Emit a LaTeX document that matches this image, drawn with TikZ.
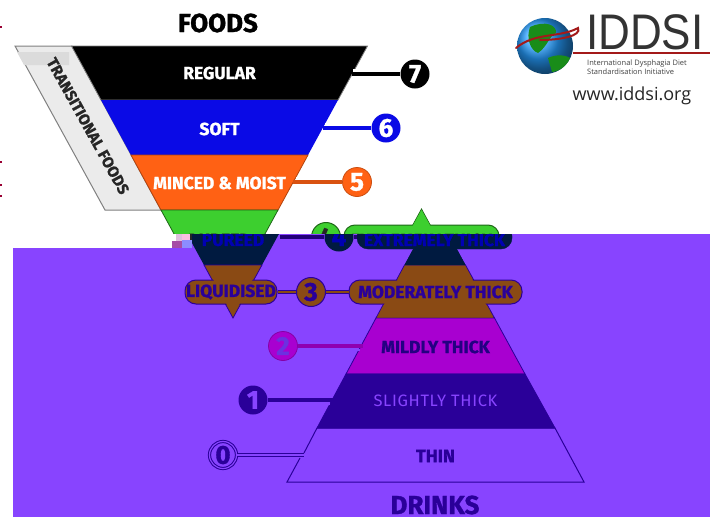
\documentclass[tikz,border=0pt]{standalone}
\usepackage{fontspec}
\setmainfont{Fira Sans}[BoldFeatures={FakeBold=1.2}]
\newfontfamily\logofont{Open Sans}
\newfontfamily\iddsifont{Liberation Sans}[FakeStretch=.88]
\usetikzlibrary{shadings}
\definecolor{bgviolet}{HTML}{8844FF}
\definecolor{navyband}{HTML}{001A40}
\definecolor{brownband}{HTML}{8A4A14}
\definecolor{magband}{HTML}{A800D0}
\definecolor{indigoband}{HTML}{2A0099}
\definecolor{greenband}{HTML}{3DCF2F}
\definecolor{orangeband}{HTML}{FF6114}
\definecolor{blueband}{HTML}{0A0AE6}
\tikzset{
  lvl/.style={circle, minimum size=29pt, inner sep=0pt, font=\bfseries\fontsize{26}{26}\selectfont},
  pill/.style={rounded corners=11pt, minimum height=24pt, inner sep=0pt},
  lab/.style={font=\bfseries\fontsize{17.5}{17.5}\selectfont},
  link/.style={line width=3.6pt},
  band/.style={line width=.8pt}
}
\begin{document}
\begin{tikzpicture}[x=1pt,y=-1pt]
    \useasboundingbox (0,0) rectangle (710,517);
    \fill[white] (0,0) rectangle (710,517);

    % stray marks on the left edge
    \foreach \ypos in {27,162,185,196}
      \fill[purple!80!black] (0,\ypos-1) rectangle (1.5,\ypos+1);

    % foods
    \node[font=\bfseries\fontsize{26}{26}\selectfont] (foods) at (218,23) {FOODS};

    \path [draw=gray, fill=gray!16, line width=1pt] (15,46) -- (72,46) -- (161,210) -- (105,210) -- cycle;
    \fill[gray!28] (17,52) -- (69,52) -- (69,65) -- (24,65) -- cycle;
    \node[rotate=-61, font=\bfseries\fontsize{15.5}{15.5}\selectfont, text=black!85] (trans) at (88,126) {TRANSITIONAL FOODS};

    \path [draw=gray, fill=black, band] (71.5,46) -- (367.5,46) -- (338,100) -- (101,100) -- cycle;
    \path [fill=blueband] (101,100) -- (338,100) -- (308,155) -- (131,155) -- cycle;
    \path [draw=orangeband!70!black, fill=orangeband, band] (131,155) -- (308,155) -- (278,210) -- (161,210) -- cycle;
    \path [draw=greenband!50!black, fill=greenband, band] (161,210) -- (278,210) -- (248,265) -- (191,265) -- cycle;

    \node[lab, text=white] (regular) at (219.5,73) {REGULAR};
    \node[lab, text=white] (soft) at (219.5,129) {SOFT};
    \node[lab, text=white] (minced) at (219.5,183) {MINCED \& MOIST};
    \node[lab, text=black!85] (pureed) at (219.5,240) {PUREED};

    \node[lvl, fill=black, text=white] (n7) at (415,74) {7};
    \node[lvl, fill=blueband, text=white] (n6) at (386,128) {6};
    \node[lvl, draw=orangeband!80!black, fill=orangeband, text=white, line width=.8pt] (n5) at (357,182) {5};
    \coordinate (c7) at (352,74);
    \coordinate (c6) at (323,128);
    \coordinate (c5) at (293,182);
    \draw[link, black] (c7) -- (n7);
    \draw[link, blueband] (c6) -- (n6);
    \draw[link, orangeband!85!black] (c5) -- (n5);
    \fill[white] (353,69) rectangle (361,71.5);
    \fill[white] (325,123) rectangle (333,125.5);
    \fill[white] (296,177) rectangle (304,179.5);

    % drinks, upper tip
    \path [draw=greenband!50!black, fill=greenband, band] (421.5,209) -- (452,265) -- (391,265) -- cycle;
    \node[pill, draw=greenband!50!black, fill=greenband, line width=1pt, minimum width=155pt] (xthick) at (421.5,237) {};
    \path [fill=greenband] (421.5,210) -- (437,238) -- (406,238) -- cycle;
    \node[lab, text=black!85] at (421.5,240) {EXTREMELY THICK};
    \node[lvl, draw=greenband!50!black, fill=greenband, line width=1pt] (n4top) at (326,237) {\textcolor{black!85}{4}};

    % violet part of the picture, shifted sideways
    \fill[bgviolet] (13,248) -- (192,248) -- (192,234) -- (710,234) -- (710,517) -- (13,517) -- cycle;
    \fill[white] (160,234) rectangle (176,248);
    \fill[violet!25] (176,234) rectangle (182,241);
    \fill[magenta!25] (182,234) rectangle (190,240);
    \fill[blue!45] (182,240) rectangle (192,248);
    \fill[violet!70] (172,241) rectangle (182,248);
    \begin{scope}
    \clip (13,248) -- (192,248) -- (192,234) -- (710,234) -- (710,517) -- (13,517) -- cycle;

    \path [fill=navyband] (174,210) -- (292,210) -- (262,265) -- (204,265) -- cycle;
    \path [draw=indigoband, fill=brownband, band] (204,265) -- (262,265) -- (233,318) -- cycle;

    \path [fill=navyband] (435,209) -- (465.5,265) -- (404.5,265) -- cycle;
    \path [draw=indigoband, fill=brownband, band] (404.5,265) -- (465.5,265) -- (494.5,318) -- (376,318) -- cycle;
    \path [draw=indigoband, fill=magband, band] (376,318) -- (494.5,318) -- (525,374) -- (346,374) -- cycle;
    \path [draw=indigoband, fill=indigoband, band] (346,374) -- (525,374) -- (555,428) -- (317,428) -- cycle;
    \path [draw=indigoband, line width=1pt] (317,428) -- (555,428) -- (584,482) -- (287,482) -- (300,458);
    \path [draw=indigoband, line width=1pt] (317,428) -- (304,453);

    \node[pill, fill=navyband, draw=navyband, minimum width=155pt] (xthicklo) at (434.5,237) {};
    \path [fill=navyband] (435,209) -- (465.5,265) -- (404.5,265) -- cycle;
    \node[lab, text=blue!70!black] (xthicktext) at (434.5,240) {EXTREMELY THICK};
    \node[lab, text=blue!70!black] (pureedlo) at (233,240) {PUREED};
    \node[lvl, fill=navyband, text=blue!70!black] (n4) at (339,237) {4};
    \coordinate (c4) at (280,237);
    \draw[link, indigoband!80!black] (c4) -- (n4);
    \draw[link, indigoband!80!black] (n4) -- (xthicklo);

    \node[pill, draw=indigoband, fill=brownband, line width=1pt, minimum width=92pt] (liq) at (231,292) {};
    \node[pill, draw=indigoband, fill=brownband, line width=1pt, minimum width=173pt] (mod) at (435.5,292) {};
    \path [fill=brownband] (206,266) -- (260,266) -- (233,316) -- cycle;
    \path [fill=brownband] (405,266) -- (465,266) -- (493,317.5) -- (377,317.5) -- cycle;
    \node[lab, text=indigoband] (liqtext) at (231,292) {LIQUIDISED};
    \node[lab, text=indigoband] (modtext) at (435.5,292) {MODERATELY THICK};
    \node[lvl, draw=indigoband, fill=brownband, text=indigoband, line width=1pt] (n3) at (311,292) {3};
    \draw[indigoband, double=brownband, double distance=1.6pt, line width=.8pt] (liq) -- (n3) -- (mod);

    \node[text=indigoband!85!black, font=\bfseries\fontsize{17.5}{17.5}\selectfont] (mildly) at (435.5,347) {MILDLY THICK};
    \node[text=bgviolet, font=\fontsize{16.5}{16.5}\selectfont\addfontfeature{LetterSpace=4}] (slightly) at (435.5,401) {SLIGHTLY THICK};
    \node[text=indigoband, font=\bfseries\fontsize{18}{18}\selectfont] (thin) at (435.5,456) {THIN};
    \node[text=indigoband, font=\bfseries\fontsize{26}{26}\selectfont] (drinks) at (435,505) {DRINKS};

    \node[lvl, draw=magband!80!black, fill=magband, text=bgviolet!70!indigoband, line width=.8pt] (n2) at (283,346) {2};
    \node[lvl, fill=indigoband, text=bgviolet] (n1) at (253,400) {1};
    \node[lvl, draw=indigoband, double=bgviolet, double distance=1.2pt, fill=bgviolet, text=indigoband, minimum size=27pt, line width=1pt] (n0) at (223,455) {0};
    \coordinate (c2) at (363,346);
    \coordinate (c1) at (333,400);
    \coordinate (c0) at (304,455);
    \draw[link, magband!85!black] (n2) -- (c2);
    \draw[link, indigoband] (n1) -- (c1);
    \draw[indigoband, double=bgviolet, double distance=1.2pt, line width=1pt] (n0) -- (c0);
    \fill[bgviolet] (352,349) rectangle (360,351);
    \fill[bgviolet] (322,403) rectangle (330,405);
    \end{scope}

    % logo
    \shade[ball color=blue!45!cyan!85!white] (545,46) circle (28);
    \fill[green!50!black!90] (530,27) .. controls (545,20) and (557,25) .. (556,33) .. controls (549,36) and (548,46) .. (538,53) .. controls (530,50) and (526,38) .. (530,27) -- cycle;
    \fill[green!50!black!90] (548,58) .. controls (556,54) and (566,55) .. (570,58) .. controls (566,68) and (556,72) .. (552,72) -- cycle;
    \draw[red!60!black!90, line width=2pt, line cap=round] (516,48) .. controls (535,32) and (560,38) .. (578,28) .. controls (582,36) and (560,40) .. (540,40);
    \draw[red!60!black!90, line width=2pt] (573,53) -- (710,53);
    \node[anchor=west, inner sep=0pt, text=black!80, font=\iddsifont\fontsize{50}{50}\selectfont] (iddsi) at (586,32) {IDDSI};
    \node[anchor=west, inner sep=0pt, text=black!75, align=left, font=\logofont\fontsize{7.5}{8.5}\selectfont] (tagline) at (587,67) {International Dysphagia Diet\\Standardisation Initiative};
    \node[inner sep=0pt, text=black!85, font=\logofont\fontsize{18}{18}\selectfont] (site) at (632,96) {www.iddsi.org};
\end{tikzpicture}
\end{document}
